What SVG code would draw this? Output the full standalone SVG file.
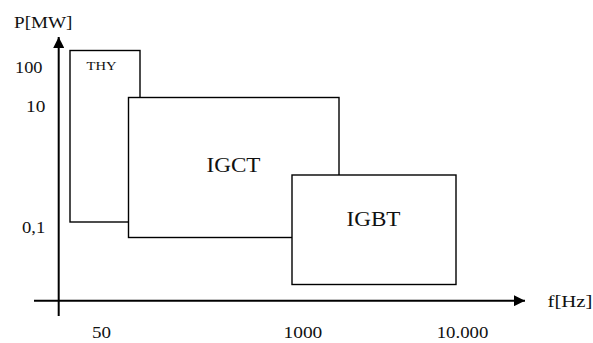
<svg xmlns="http://www.w3.org/2000/svg" width="593" height="343" viewBox="0 0 593 343">
  <style>
    .box { fill: #ffffff; stroke: #000000; stroke-width: 1.4; }
    .axis { stroke: #000000; stroke-width: 2; fill: none; }
    text { font-family: "Liberation Serif", "Times New Roman", serif; fill: #111111; }
    .tick { font-size: 16.5px; }
    .label { font-size: 22px; }
    .small { font-size: 12.5px; }
  </style>
  <defs>
    <marker id="arrow" viewBox="0 0 10 10" refX="10" refY="5" markerWidth="5.5" markerHeight="5.5" orient="auto" markerUnits="strokeWidth">
      <path d="M0,0 L10,5 L0,10 Z" fill="#000000"/>
    </marker>
  </defs>

  <!-- operating regions (drawn back to front) -->
  <g id="thy">
    <rect class="box" x="70" y="50.5" width="70" height="171.5"/>
    <text class="small" x="86.5" y="70" textLength="30" lengthAdjust="spacingAndGlyphs">THY</text>
  </g>
  <g id="igct">
    <rect class="box" x="128.5" y="97.5" width="210.5" height="140"/>
    <text class="label" x="206.5" y="172" textLength="54" lengthAdjust="spacingAndGlyphs">IGCT</text>
  </g>
  <g id="igbt">
    <rect class="box" x="292" y="175" width="164" height="109.5"/>
    <text class="label" x="346.5" y="226" textLength="54" lengthAdjust="spacingAndGlyphs">IGBT</text>
  </g>

  <!-- axes -->
  <g id="connectors">
    <line class="axis" x1="58.7" y1="316" x2="58.7" y2="37" marker-end="url(#arrow)"/>
    <line class="axis" x1="34" y1="300.7" x2="525" y2="300.7" marker-end="url(#arrow)"/>
  </g>

  <!-- axis labels and ticks -->
  <g id="axis-labels">
    <text class="tick" x="14" y="28" textLength="58.5" lengthAdjust="spacingAndGlyphs">P[MW]</text>
    <text class="tick" x="547.5" y="307.3" textLength="45" lengthAdjust="spacingAndGlyphs">f[Hz]</text>
    <text class="tick" x="15" y="73" textLength="27.5" lengthAdjust="spacingAndGlyphs">100</text>
    <text class="tick" x="26" y="112" textLength="19.3" lengthAdjust="spacingAndGlyphs">10</text>
    <text class="tick" x="22" y="233.3" textLength="23.3" lengthAdjust="spacingAndGlyphs">0,1</text>
    <text class="tick" x="92" y="338" textLength="19" lengthAdjust="spacingAndGlyphs">50</text>
    <text class="tick" x="283.5" y="338" textLength="38.8" lengthAdjust="spacingAndGlyphs">1000</text>
    <text class="tick" x="436.7" y="338" textLength="51.6" lengthAdjust="spacingAndGlyphs">10.000</text>
  </g>
</svg>
